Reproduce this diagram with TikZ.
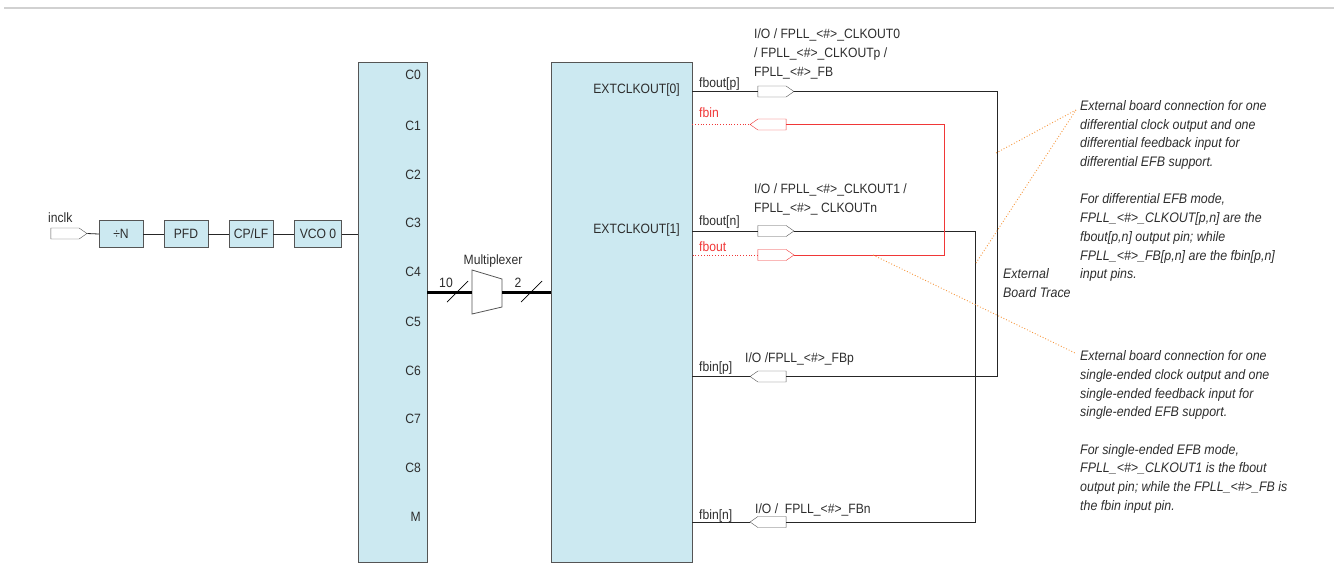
\documentclass[tikz,border=0pt]{standalone}
\usepackage{fontspec}
\setmainfont{Liberation Sans}[FakeStretch=0.9]
\usetikzlibrary{shapes.symbols,shapes.geometric}
\definecolor{blk}{RGB}{204,233,241}
\definecolor{edge}{RGB}{85,85,85}
\definecolor{txt}{RGB}{45,45,45}
\definecolor{pinred}{RGB}{240,55,55}
\definecolor{orng}{RGB}{245,150,60}
\newcommand\lbl{\fontsize{13.5}{19}\selectfont}
\newcommand\note{\fontsize{13.8}{18.7}\selectfont\itshape}
\tikzset{
  box/.style={draw=edge, fill=blk, minimum width=44pt, minimum height=27pt, inner sep=0pt, font=\lbl, text=txt},
  bigblk/.style={draw=edge, fill=blk, minimum height=500pt, inner sep=0pt},
  pinbase/.style={signal, signal pointer angle=70, minimum width=36pt, minimum height=11pt, inner sep=0pt, fill=white},
  pout/.style={pinbase, draw=edge, signal to=east},
  pin/.style={pinbase, draw=edge, signal to=west},
  rpout/.style={pinbase, draw=pinred, signal to=east},
  rpin/.style={pinbase, draw=pinred, signal to=west},
  wire/.style={draw=black!85, line width=0.8pt},
  rwire/.style={draw=pinred, line width=0.8pt},
  rdot/.style={draw=pinred, line width=0.8pt, dotted},
  bus/.style={draw=black, line width=3pt},
  odot/.style={draw=orng, line width=0.9pt, dotted},
  lab/.style={font=\lbl, text=txt, inner sep=0pt},
  rlab/.style={font=\lbl, text=pinred, inner sep=0pt},
}
\begin{document}
\begin{tikzpicture}[x=1pt,y=-1pt]
\useasboundingbox (0,0) rectangle (1338,584);
\draw[black!18, line width=2pt] (4,8) -- (1334,8);

% input chain
\node[pout] (inclk) at (65,233.5) {};
\node[lab, anchor=west] (inclklab) at (48,218) {inclk};
\node[box] (divn) at (121,234) {÷N};
\node[box] (pfd) at (186,234) {PFD};
\node[box] (cplf) at (251,234) {CP/LF};
\node[box, minimum width=47pt] (vco) at (318,234) {VCO 0};

% big blocks
\node[bigblk, minimum width=69pt] (cblk) at (392.5,312) {};
\node[bigblk, minimum width=141pt] (ext) at (621.5,312) {};

\draw[wire] (inclk.east) -- (divn.west);
\draw[wire] (divn.east) -- (pfd.west);
\draw[wire] (pfd.east) -- (cplf.west);
\draw[wire] (cplf.east) -- (vco.west);
\draw[wire] (vco.east) -- (cblk.west |- vco.east);

\foreach \t/\yy in {C0/75,C1/126,C2/175,C3/223,C4/272,C5/322,C6/371,C7/419,C8/468,M/517}
  \node[lab, anchor=east] (lab\t) at (421,\yy) {\t};

\node[lab, anchor=east] (e0) at (680,90) {EXTCLKOUT[0]};
\node[lab, anchor=east] (e1) at (680,230) {EXTCLKOUT[1]};

% multiplexer
\coordinate (muxin) at (472,292);
\coordinate (muxout) at (502,292);
\draw[edge, fill=white, line width=0.8pt] (472,270) -- (502,279) -- (502,307) -- (472,314) -- cycle;
\node[lab] (muxlab) at (493,261) {Multiplexer};
\draw[bus] (cblk.east |- muxin) -- (muxin);
\draw[bus] (muxout) -- (ext.west |- muxout);
\draw[black, line width=0.7pt] (447,302) -- (468,281);
\draw[black, line width=0.7pt] (521,302) -- (542,281);
\node[lab] (n10) at (446,283) {10};
\node[lab] (n2) at (518,283) {2};

% pins
\node[pout] (p0) at (772,91.5) {};
\node[rpin] (r1) at (772,124.5) {};
\node[pout] (p1) at (772,231) {};
\node[rpout] (r2) at (772,255) {};
\node[pin] (p2) at (772,376.5) {};
\node[pin] (p3) at (772,522) {};

\coordinate (t0) at (997,91.5);
\coordinate (t1) at (975,231);
\coordinate (rt) at (944,124.5);

\draw[wire] (ext.east |- p0) -- (p0.west);
\draw[wire] (p0.east) -- (t0) -- (t0 |- p2) -- (p2.east);
\draw[wire] (p2.west) -- (ext.east |- p2);
\draw[wire] (ext.east |- p1) -- (p1.west);
\draw[wire] (p1.east) -- (t1) -- (t1 |- p3) -- (p3.east);
\draw[wire] (p3.west) -- (ext.east |- p3);
\draw[rdot] (ext.east |- r1) -- (r1.west);
\draw[rwire] (r1.east) -- (rt) -- (rt |- r2) -- (r2.east);
\draw[rdot] (r2.west) -- (ext.east |- r2);

% pin labels
\node[lab, anchor=west] (l0) at (699,84) {fbout[p]};
\node[rlab, anchor=west] (l1) at (699,113) {fbin};
\node[lab, anchor=west] (l2) at (699,222) {fbout[n]};
\node[rlab, anchor=west] (l3) at (699,247) {fbout};
\node[lab, anchor=west] (l4) at (699,368) {fbin[p]};
\node[lab, anchor=west] (l5) at (699,516) {fbin[n]};

\node[lab, anchor=west, align=left] (io0) at (754,54) {I/O / FPLL\_<\#>\_CLKOUT0\\/ FPLL\_<\#>\_CLKOUTp /\\FPLL\_<\#>\_FB};
\node[lab, anchor=west, align=left] (io1) at (754,199.5) {I/O / FPLL\_<\#>\_CLKOUT1 /\\FPLL\_<\#>\_ CLKOUTn};
\node[lab, anchor=west] (io2) at (745,359) {I/O /FPLL\_<\#>\_FBp};
\node[lab, anchor=west] (io3) at (755,510) {I/O /\ \ FPLL\_<\#>\_FBn};

\node[lab, anchor=west, align=left, font=\note] (trace) at (1003,283) {External\\Board Trace};

% notes
\coordinate (n1) at (1076,110);
\coordinate (n2) at (1075,353);
\draw[odot] (996,153) -- (n1);
\draw[odot] (976,263) -- (n1);
\draw[odot] (873,255) -- (n2);

\node[lab, anchor=west, align=left, font=\note] (note1) at (1080,191) {External board connection for one\\differential clock output and one\\differential feedback input for\\differential EFB support.\\[18.7pt]For differential EFB mode,\\FPLL\_<\#>\_CLKOUT[p,n] are the\\fbout[p,n] output pin; while\\FPLL\_<\#>\_FB[p,n] are the fbin[p,n]\\input pins.};
\node[lab, anchor=west, align=left, font=\note] (note2) at (1080,432) {External board connection for one\\single-ended clock output and one\\single-ended feedback input for\\single-ended EFB support.\\[18.7pt]For single-ended EFB mode,\\FPLL\_<\#>\_CLKOUT1 is the fbout\\output pin; while the FPLL\_<\#>\_FB is\\the fbin input pin.};
\end{tikzpicture}
\end{document}
